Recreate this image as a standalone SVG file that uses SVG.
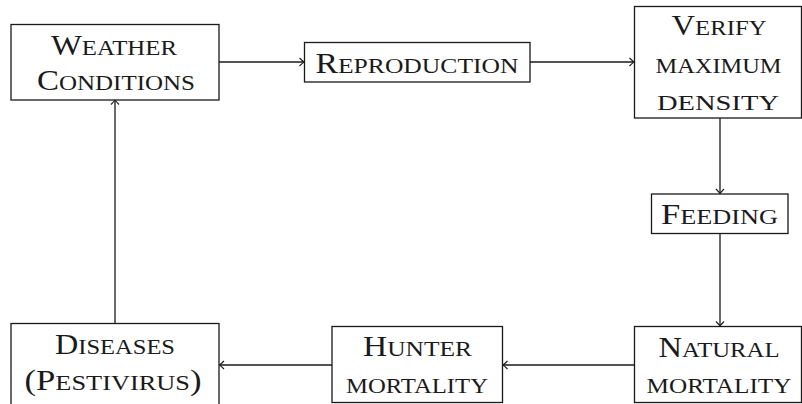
<svg xmlns="http://www.w3.org/2000/svg" width="802" height="404" viewBox="0 0 802 404">
<style>
.box{fill:#fff;stroke:#1a1a1a;stroke-width:1.3}
.t{font-family:"Liberation Serif","DejaVu Serif",serif;font-size:31px;font-variant:small-caps;fill:#1a1a1a;text-anchor:middle}
.k{font-size:29px}
.c{fill:none;stroke:#1a1a1a;stroke-width:1.3}
</style>
<defs>
<marker id="ah" viewBox="-6 -5 8 10" markerWidth="8" markerHeight="10" refX="0" refY="0" orient="auto" markerUnits="userSpaceOnUse">
<path d="M-4.5,-4 Q-1.2,-0.8 0,0 Q-1.2,0.8 -4.5,4" fill="none" stroke="#1a1a1a" stroke-width="1.1"/>
</marker>
</defs>
<rect width="802" height="404" fill="#fff"/>
<g id="connectors">
<line class="c" x1="219" y1="62" x2="304" y2="62" marker-end="url(#ah)"/>
<line class="c" x1="530" y1="62" x2="634" y2="62" marker-end="url(#ah)"/>
<line class="c" x1="720" y1="118" x2="720" y2="193.5" marker-end="url(#ah)"/>
<line class="c" x1="720" y1="233.5" x2="720" y2="326" marker-end="url(#ah)"/>
<line class="c" x1="634.5" y1="365" x2="503" y2="365" marker-end="url(#ah)"/>
<line class="c" x1="332" y1="365" x2="219.5" y2="365" marker-end="url(#ah)"/>
<line class="c" x1="115" y1="323.5" x2="115" y2="100" marker-end="url(#ah)"/>
</g>
<g id="weather">
<rect class="box" x="11" y="24.5" width="208" height="75.5"/>
<text class="t" x="114" y="54.5" textLength="126" lengthAdjust="spacingAndGlyphs"><tspan class="k">W</tspan>eather</text>
<text class="t" x="116" y="90" textLength="158" lengthAdjust="spacingAndGlyphs"><tspan class="k">C</tspan>onditions</text>
</g>
<g id="reproduction">
<rect class="box" x="304.5" y="42.5" width="225.5" height="39.5"/>
<text class="t" x="417" y="72.5" textLength="203" lengthAdjust="spacingAndGlyphs"><tspan class="k">R</tspan>eproduction</text>
</g>
<g id="verify">
<rect class="box" x="634.5" y="6.5" width="167" height="111.5"/>
<text class="t" x="719" y="35" textLength="95" lengthAdjust="spacingAndGlyphs"><tspan class="k">V</tspan>erify</text>
<text class="t" x="718.5" y="72.5" textLength="126" lengthAdjust="spacingAndGlyphs">maximum</text>
<text class="t" x="718" y="109.5" textLength="122" lengthAdjust="spacingAndGlyphs">density</text>
</g>
<g id="feeding">
<rect class="box" x="651.5" y="194" width="136.5" height="39.5"/>
<text class="t" x="719.5" y="224" textLength="117" lengthAdjust="spacingAndGlyphs"><tspan class="k">F</tspan>eeding</text>
</g>
<g id="natural">
<rect class="box" x="634.5" y="326.5" width="167" height="76"/>
<text class="t" x="719" y="356.5" textLength="121" lengthAdjust="spacingAndGlyphs"><tspan class="k">N</tspan>atural</text>
<text class="t" x="719" y="393" textLength="145" lengthAdjust="spacingAndGlyphs">mortality</text>
</g>
<g id="hunter">
<rect class="box" x="332" y="326.5" width="170.5" height="76"/>
<text class="t" x="417.5" y="356" textLength="109" lengthAdjust="spacingAndGlyphs"><tspan class="k">H</tspan>unter</text>
<text class="t" x="417" y="392.5" textLength="142" lengthAdjust="spacingAndGlyphs">mortality</text>
</g>
<g id="diseases">
<rect class="box" x="11" y="323.5" width="208" height="90"/>
<text class="t" x="115" y="353.5" textLength="120" lengthAdjust="spacingAndGlyphs"><tspan class="k">D</tspan>iseases</text>
<text class="t" x="113" y="390" textLength="177" lengthAdjust="spacingAndGlyphs"><tspan class="k">(P</tspan>estivirus<tspan class="k">)</tspan></text>
</g>
</svg>
